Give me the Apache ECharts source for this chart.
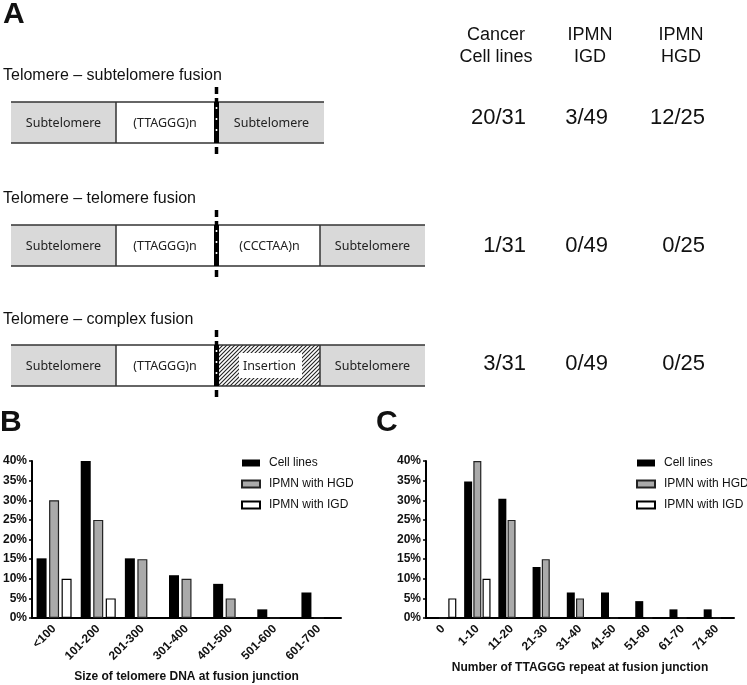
<!DOCTYPE html>
<html><head><meta charset="utf-8">
<script src="https://cdn.jsdelivr.net/npm/echarts@6/dist/echarts.min.js"></script>
<style>html,body{margin:0;padding:0;background:#fff}#c{width:747px;height:685px}</style>
</head><body><div id="c"></div>
<script>
// ---- Panel A data ----
const fusionTypes = ['Telomere – subtelomere fusion', 'Telomere – telomere fusion', 'Telomere – complex fusion'];
const tableHeadersTop = ['Cancer', 'IPMN', 'IPMN'];
const tableHeadersBottom = ['Cell lines', 'IGD', 'HGD'];
const cellLineCounts = ['20/31', '1/31', '3/31'];
const igdCounts = ['3/49', '0/49', '0/49'];
const hgdCounts = ['12/25', '0/25', '0/25'];
const row1Segments = ['Subtelomere', '(TTAGGG)n', 'Subtelomere'];
const row2Segments = ['Subtelomere', '(TTAGGG)n', '(CCCTAA)n', 'Subtelomere'];
const row3Segments = ['Subtelomere', '(TTAGGG)n', 'Insertion', 'Subtelomere'];

// ---- Panel B data ----
const sizeCategories = ['<100', '101-200', '201-300', '301-400', '401-500', '501-600', '601-700'];
const sizeCellLines = [15.2, 40, 15.2, 10.9, 8.7, 2.2, 6.5];
const sizeHGD = [30, 25, 15, 10, 5, 0, 0];
const sizeIGD = [10, 5, 0, 0, 0, 0, 0];

// ---- Panel C data ----
const repeatCategories = ['0', '1-10', '11-20', '21-30', '31-40', '41-50', '51-60', '61-70', '71-80'];
const repeatCellLines = [0, 34.8, 30.4, 13, 6.5, 6.5, 4.3, 2.2, 2.2];
const repeatHGD = [0, 40, 25, 15, 5, 0, 0, 0, 0];
const repeatIGD = [5, 10, 0, 0, 0, 0, 0, 0, 0];

const seriesNames = ['Cell lines', 'IPMN with HGD', 'IPMN with IGD'];
const yTicks = [0, 5, 10, 15, 20, 25, 30, 35, 40];

const FONT = 'Arial, "Liberation Sans", Helvetica, sans-serif';

// hatch pattern
const hatch = document.createElement('canvas');
hatch.width = 4; hatch.height = 4;
(function(){
  const g = hatch.getContext('2d');
  g.fillStyle = '#fff'; g.fillRect(0,0,4,4);
  g.strokeStyle = '#222'; g.lineWidth = 1.1;
  g.beginPath();
  g.moveTo(0,4); g.lineTo(4,0);
  g.moveTo(-1,1); g.lineTo(1,-1);
  g.moveTo(3,5); g.lineTo(5,3);
  g.stroke();
})();

const graphics = [];
function txt(text, x, y, font, align, valign, fill) {
  graphics.push({type:'text', silent:true, z:10, style:{text:text, x:x, y:y, font:font, textAlign:align||'left', textVerticalAlign:valign||'middle', fill:fill||'#111'}});
}
function rect(x, y, w, h, fill, z) {
  graphics.push({type:'rect', silent:true, z: z||1, shape:{x:x, y:y, width:w, height:h}, style:{fill:fill, stroke:null}});
}
function line(x1, y1, x2, y2, stroke, lw, dash, z) {
  graphics.push({type:'line', silent:true, z: z||2, shape:{x1:x1,y1:y1,x2:x2,y2:y2}, style:{stroke:stroke, lineWidth:lw, lineDash:dash||null}});
}

// panel letters
txt('A', 3, 15, 'bold 30px ' + FONT);
txt('B', 0, 423, 'bold 30px ' + FONT);
txt('C', 376, 423, 'bold 30px ' + FONT);

// panel A rows
const rowTitleY = [76, 199, 320];
const barTop = [102, 225, 345];
const barH = 41;
const rowSegments = [row1Segments, row2Segments, row3Segments];
const segBounds = [
  [[11,116],[116,214],[219,324]],
  [[11,116],[116,214],[219,320],[320,425]],
  [[11,116],[116,214],[219,320],[320,425]]
];
const GRAY = '#d9d9d9';
const segFont = '12.5px "Noto Sans", ' + FONT;
for (let r = 0; r < 3; r++) {
  txt(fusionTypes[r], 3, rowTitleY[r], '16px ' + FONT);
  const top = barTop[r], bot = top + barH;
  const segs = rowSegments[r], bounds = segBounds[r];
  for (let i = 0; i < segs.length; i++) {
    const [x0, x1] = bounds[i];
    const label = segs[i];
    let fill = label === 'Subtelomere' ? GRAY : '#fff';
    if (label === 'Insertion') {
      rect(x0, top, x1 - x0, barH, {image: hatch, repeat: 'repeat'});
      rect(x0 + 20, top + 8, x1 - x0 - 38, barH - 16, '#fff', 2);
    } else {
      rect(x0, top, x1 - x0, barH, fill);
    }
    txt(label, (x0 + x1) / 2, top + barH / 2 + 1, segFont, 'center', 'middle', '#222');
    if (i > 0 && bounds[i-1][1] === x0) line(x0, top, x0, bot, '#333', 1.5);
  }
  const xEnd = bounds[bounds.length - 1][1];
  line(11, top, xEnd, top, '#333', 1.6);
  line(11, bot, xEnd, bot, '#333', 1.6);
  // junction
  rect(214, top, 5, barH, '#000', 3);
  line(216.5, top + 5, 216.5, bot - 5, '#fff', 1.6, [2, 9], 4);
  line(216.5, top - 15, 216.5, top, '#000', 3.5, [7, 4], 3);
  line(216.5, bot, 216.5, bot + 17, '#000', 3.5, [0, 4, 7, 10], 3);
}

// table
const colCenters = [496, 590, 681];
const colRights = [526, 608, 705];
for (let c = 0; c < 3; c++) {
  txt(tableHeadersTop[c], colCenters[c], 35, '18px ' + FONT, 'center');
  txt(tableHeadersBottom[c], colCenters[c], 57, '18px ' + FONT, 'center');
}
const rowValY = [118, 246, 364];
const cols = [cellLineCounts, igdCounts, hgdCounts];
for (let r = 0; r < 3; r++) {
  for (let c = 0; c < 3; c++) {
    txt(cols[c][r], colRights[c], rowValY[r], '22px ' + FONT, 'right');
  }
}

const styles = [
  {color:'#000', borderWidth:0},
  {color:'#aaaaaa', borderColor:'#222', borderWidth:1.2},
  {color:'#fff', borderColor:'#000', borderWidth:1.2}
];

function barSeries(idx, data, axisIdx, width, gap) {
  return {
    name: seriesNames[idx], type:'bar', data:data, xAxisIndex:axisIdx, yAxisIndex:axisIdx,
    barWidth: width, barGap: gap, itemStyle: styles[idx], silent:true, animation:false
  };
}

const axisLabelBold = {fontFamily: FONT, fontWeight:'bold', fontSize:12, color:'#111'};

function xAxis(gridIndex, cats, name, gap) {
  return {
    type:'category', gridIndex:gridIndex, data:cats,
    axisLine:{lineStyle:{color:'#000', width:2}},
    axisTick:{alignWithLabel:true, length:6, lineStyle:{color:'#000', width:2}},
    axisLabel: Object.assign({rotate:45, margin:9, interval:0}, axisLabelBold),
    name:name, nameLocation:'middle', nameGap:gap,
    nameTextStyle:{fontFamily:FONT, fontWeight:'bold', fontSize:12, color:'#111'}
  };
}
function yAxis(gridIndex) {
  return {
    type:'value', gridIndex:gridIndex, min:0, max:40, interval:5,
    axisLine:{show:true, lineStyle:{color:'#000', width:2}},
    axisTick:{show:true, length:3, lineStyle:{color:'#000', width:1.5}},
    splitLine:{show:false},
    axisLabel: Object.assign({formatter: function(v){ return yTicks.indexOf(v) >= 0 ? v + '%' : ''; }, margin:5}, axisLabelBold)
  };
}

const legendCommon = {
  orient:'vertical', data:seriesNames, itemWidth:18, itemHeight:7, itemGap:9,
  selectedMode:false, icon:'rect',
  textStyle:{fontFamily:FONT, fontSize:12, color:'#111', padding:[0,0,0,4]}
};

const option = {
  animation:false,
  backgroundColor:'#fff',
  grid:[
    {left:32, right:406, top:461, bottom:67},
    {left:426, right:13, top:461, bottom:67}
  ],
  xAxis:[
    xAxis(0, sizeCategories, 'Size of telomere DNA at fusion junction', 53),
    xAxis(1, repeatCategories, 'Number of TTAGGG repeat at fusion junction', 44)
  ],
  yAxis:[yAxis(0), yAxis(1)],
  legend:[
    Object.assign({left:236, top:452}, legendCommon),
    Object.assign({left:631, top:452}, legendCommon)
  ],
  series:[
    barSeries(0, sizeCellLines, 0, 10, '25%'),
    barSeries(1, sizeHGD, 0, 10, '25%'),
    barSeries(2, sizeIGD, 0, 10, '25%'),
    barSeries(0, repeatCellLines, 1, 8, '15%'),
    barSeries(1, repeatHGD, 1, 8, '15%'),
    barSeries(2, repeatIGD, 1, 8, '15%')
  ],
  graphic: graphics
};

const chart = echarts.init(document.getElementById('c'), null, {renderer:'canvas'});
chart.setOption(option);
</script>
</body></html>
